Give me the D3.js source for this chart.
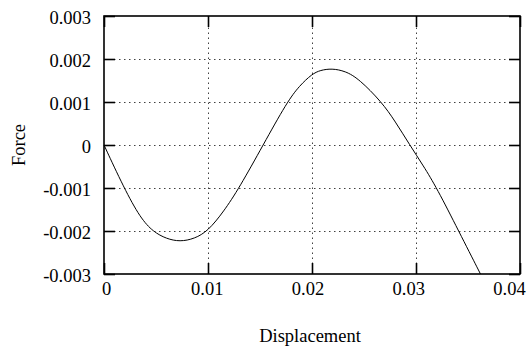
<!DOCTYPE html>
<meta charset="utf-8">
<title>Force vs Displacement</title>
<script src="https://d3js.org/d3.v7.min.js"></script>
<style>
  body { margin: 0; background: #fff; }
  text { font-family: "Liberation Serif", "Times New Roman", serif; font-size: 18.5px; fill: #000; }
  .grid line { stroke: #000; stroke-width: 1; stroke-dasharray: 1.5,3.5; opacity: 0.75; }
  .grid path { display: none; }
  .ax path { display: none; }
  .ax line { stroke: #000; stroke-width: 1.6; }
</style>
<div id="chart"></div>
<script>
  // values
  const xTicks = [0, 0.01, 0.02, 0.03, 0.04];
  const yTicks = [-0.003, -0.002, -0.001, 0, 0.001, 0.002, 0.003];
  const xTickLabels = ["0", "0.01", "0.02", "0.03", "0.04"];
  const yTickLabels = ["-0.003", "-0.002", "-0.001", "0", "0.001", "0.002", "0.003"];

  const displacement = [0, 0.00192, 0.0035, 0.00474, 0.0060, 0.0073, 0.0087, 0.0100, 0.0115, 0.0130,
    0.0153, 0.0176, 0.0188, 0.0200, 0.0208, 0.0219, 0.0232, 0.0245, 0.0267, 0.0280,
    0.0294, 0.0307, 0.0320, 0.0341, 0.0362];
  const force = [0, -0.001, -0.0017, -0.00202, -0.00218, -0.00225, -0.00218, -0.002, -0.00155, -0.001,
    0, 0.001, 0.00138, 0.00165, 0.00174, 0.00178, 0.00172, 0.00154, 0.001, 0.00055,
    0, -0.00048, -0.001, -0.002, -0.003];

  const margin = { top: 16, right: 8, bottom: 75, left: 104 },
    width = 528 - margin.left - margin.right,
    height = 349 - margin.top - margin.bottom;

  const svg = d3.select("#chart")
    .append("svg")
    .attr("width", 528)
    .attr("height", 349)
    .append("g")
    .attr("transform", `translate(${margin.left},${margin.top})`);

  const x = d3.scaleLinear().domain([0, 0.04]).range([0, width]);
  const y = d3.scaleLinear().domain([-0.003, 0.003]).range([height, 0]);
  // tick labels in the picture sit on a slightly narrower spread than the ticks
  const xLab = d3.scaleLinear().domain([0, 0.04]).range([2, 405]);

  // dotted grid
  svg.append("g").attr("class", "grid")
    .attr("transform", `translate(0,${height})`)
    .call(d3.axisBottom(x).tickValues(xTicks.slice(1, -1)).tickSize(-height).tickFormat(""));
  svg.append("g").attr("class", "grid")
    .call(d3.axisLeft(y).tickValues(yTicks.slice(1, -1)).tickSize(-width).tickFormat(""));

  // inward ticks on all four sides
  const bottom = svg.append("g").attr("class", "ax")
    .attr("transform", `translate(0,${height})`)
    .call(d3.axisBottom(x).tickValues(xTicks).tickSize(-11).tickPadding(0)
      .tickFormat((d, i) => xTickLabels[i]));
  bottom.selectAll("text")
    .attr("x", d => xLab(d) - x(d))
    .attr("y", 21)
    .attr("dy", 0);

  svg.append("g").attr("class", "ax")
    .call(d3.axisTop(x).tickValues(xTicks).tickSize(-11).tickFormat(""));

  const left = svg.append("g").attr("class", "ax")
    .call(d3.axisLeft(y).tickValues(yTicks).tickSize(-11).tickPadding(0)
      .tickFormat((d, i) => yTickLabels[i]));
  left.selectAll("text")
    .attr("x", -13)
    .attr("dy", "0.40em");

  svg.append("g").attr("class", "ax")
    .attr("transform", `translate(${width},0)`)
    .call(d3.axisRight(y).tickValues(yTicks).tickSize(-11).tickFormat(""));

  // frame
  svg.append("rect")
    .attr("width", width)
    .attr("height", height)
    .attr("fill", "none")
    .attr("stroke", "#000")
    .attr("stroke-width", 1.6);

  // curve
  const pts = displacement.map((d, i) => [d, force[i]]);
  svg.append("path")
    .datum(pts)
    .attr("fill", "none")
    .attr("stroke", "#000")
    .attr("stroke-width", 1)
    .attr("d", d3.line()
      .x(d => x(d[0]))
      .y(d => y(d[1]))
      .curve(d3.curveBasis));

  svg.append("text")
    .attr("text-anchor", "middle")
    .attr("x", 310 - margin.left)
    .attr("y", 342 - margin.top)
    .text("Displacement");

  svg.append("text")
    .attr("text-anchor", "middle")
    .attr("transform", `translate(${25 - margin.left},${height / 2}) rotate(-90)`)
    .text("Force");
</script>
